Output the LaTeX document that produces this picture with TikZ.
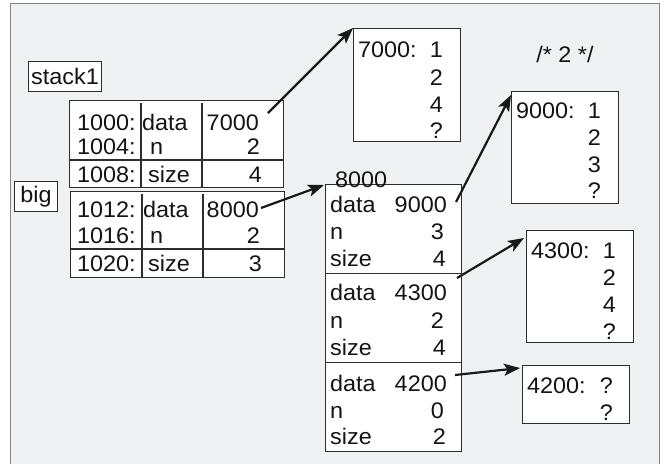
\documentclass[tikz,border=0pt]{standalone}
\usepackage{fontspec}
\newfontfamily\memfont[FakeStretch=1.04]{Liberation Sans}
\usetikzlibrary{arrows.meta,calc}
\definecolor{panelgray}{RGB}{240,241,243}
\definecolor{framegray}{RGB}{130,130,130}
\definecolor{boxline}{RGB}{45,45,45}

\begin{document}
\begin{tikzpicture}[x=1pt,y=-1pt,
		mem/.style={font=\memfont\fontsize{22.5}{26}\selectfont, inner sep=0pt, text=black!92},
		cell/.style={draw=boxline, fill=white, line width=1.1pt, inner sep=0pt, anchor=north west},
		rule/.style={draw=boxline, line width=1.1pt},
		ptr/.style={-{Stealth[length=16pt,width=12pt,inset=3.5pt]}, line width=2.2pt, black!90}]
				\useasboundingbox (0,0) rectangle (666,464);
				\fill[white] (0,0) rectangle (666,464);
				\fill[panelgray] (10,3) rectangle (659,464);
				\draw[framegray, line width=1pt] (10,464) |- (659,3) -- (659,464);
				
				% stack frames
				\node[cell, mem, minimum width=73, minimum height=30] (stack1) at (28,61) {stack1};
				\node[cell, mem, minimum width=43, minimum height=30] (big) at (14,181) {big};
				
				\node[cell, minimum width=214, minimum height=87] (s1tab) at (69,100) {};
				\draw[rule] (141,103) -- (141,187);
				\draw[rule] (202,103) -- (202,187);
				\draw[rule] (69,160) -- (283,160);
				\node[mem, anchor=base west] (a1000) at (77,130) {1000:};
				\node[mem, anchor=base west] (f1000) at (142,130) {data};
				\node[mem, anchor=base east] (v1000) at (259,130) {7000};
				\node[mem, anchor=base west] (a1004) at (77,154) {1004:};
				\node[mem, anchor=base west] (f1004) at (150,154) {n};
				\node[mem, anchor=base east] (v1004) at (260,154) {2};
				\node[mem, anchor=base west] (a1008) at (77,182) {1008:};
				\node[mem, anchor=base west] (f1008) at (148,182) {size};
				\node[mem, anchor=base east] (v1008) at (262,182) {4};
				
				\node[cell, minimum width=214, minimum height=86] (bigtab) at (70,191) {};
				\draw[rule] (142,194) -- (142,277);
				\draw[rule] (203,194) -- (203,277);
				\draw[rule] (70,249) -- (284,249);
				\node[mem, anchor=base west] (a1012) at (77,217) {1012:};
				\node[mem, anchor=base west] (f1012) at (143,217) {data};
				\node[mem, anchor=base east] (v1012) at (259,217) {8000};
				\node[mem, anchor=base west] (a1016) at (77,243) {1016:};
				\node[mem, anchor=base west] (f1016) at (150,243) {n};
				\node[mem, anchor=base east] (v1016) at (260,243) {2};
				\node[mem, anchor=base west] (a1020) at (77,271) {1020:};
				\node[mem, anchor=base west] (f1020) at (148,271) {size};
				\node[mem, anchor=base east] (v1020) at (262,271) {3};
				
				% heap structs at 8000
				\node[cell, minimum width=136, minimum height=89] (h8000a) at (325,184) {};
				\node[cell, minimum width=136, minimum height=89] (h8000b) at (325,273) {};
				\node[cell, minimum width=136, minimum height=89] (h8000c) at (325,362) {};
				\node[mem, anchor=base west] (l8000) at (335,187) {8000};
				
				\node[mem, anchor=base west] (fa1) at (330,212) {data};
				\node[mem, anchor=base east] (va1) at (447,212) {9000};
				\node[mem, anchor=base west] (fa2) at (330,239) {n};
				\node[mem, anchor=base east] (va2) at (444,239) {3};
				\node[mem, anchor=base west] (fa3) at (330,266) {size};
				\node[mem, anchor=base east] (va3) at (446,266) {4};
				
				\node[mem, anchor=base west] (fb1) at (330,300) {data};
				\node[mem, anchor=base east] (vb1) at (447,300) {4300};
				\node[mem, anchor=base west] (fb2) at (330,328) {n};
				\node[mem, anchor=base east] (vb2) at (444,328) {2};
				\node[mem, anchor=base west] (fb3) at (330,355) {size};
				\node[mem, anchor=base east] (vb3) at (446,355) {4};
				
				\node[mem, anchor=base west] (fc1) at (330,391) {data};
				\node[mem, anchor=base east] (vc1) at (447,391) {4200};
				\node[mem, anchor=base west] (fc2) at (330,418) {n};
				\node[mem, anchor=base east] (vc2) at (444,418) {0};
				\node[mem, anchor=base west] (fc3) at (330,444) {size};
				\node[mem, anchor=base east] (vc3) at (446,444) {2};
				
				% int arrays
				\node[cell, minimum width=107, minimum height=113] (a7000) at (353,28) {};
				\node[mem, anchor=base west] (l7000) at (358,57) {7000:};
				\node[mem, anchor=base east] (e7000a) at (443,57) {1};
				\node[mem, anchor=base east] (e7000b) at (443,85) {2};
				\node[mem, anchor=base east] (e7000c) at (443,112) {4};
				\node[mem, anchor=base east] (e7000d) at (443,138) {?};
				
				\node[mem, anchor=base] (note) at (565,62) {/* 2 */};
				
				\node[cell, minimum width=107, minimum height=112] (a9000) at (511,91) {};
				\node[mem, anchor=base west] (l9000) at (516,118) {9000:};
				\node[mem, anchor=base east] (e9000a) at (601,118) {1};
				\node[mem, anchor=base east] (e9000b) at (601,145) {2};
				\node[mem, anchor=base east] (e9000c) at (601,172) {3};
				\node[mem, anchor=base east] (e9000d) at (601,198) {?};
				
				\node[cell, minimum width=107, minimum height=112] (a4300) at (526,230) {};
				\node[mem, anchor=base west] (l4300) at (531,258) {4300:};
				\node[mem, anchor=base east] (e4300a) at (616,258) {1};
				\node[mem, anchor=base east] (e4300b) at (616,285) {2};
				\node[mem, anchor=base east] (e4300c) at (616,312) {4};
				\node[mem, anchor=base east] (e4300d) at (616,339) {?};
				
				\node[cell, minimum width=107, minimum height=58] (a4200) at (522,365) {};
				\node[mem, anchor=base west] (l4200) at (527,393) {4200:};
				\node[mem, anchor=base east] (e4200a) at (613,393) {?};
				\node[mem, anchor=base east] (e4200b) at (613,420) {?};
				
				% pointers
				\draw[ptr] ([shift={(9,-17)}]v1000.base east) -- (a7000.north west);
				\draw[ptr] ([shift={(2,-9)}]v1012.base east) -- ([shift={(-1,1)}]h8000a.north west);
				\draw[ptr] ([shift={(9,-10)}]va1.base east) -- ([shift={(0,4)}]a9000.north west);
				\draw[ptr] ([shift={(10,-22)}]vb1.base east) -- ([shift={(-2,8)}]a4300.north west);
				\draw[ptr] ([shift={(8,-16)}]vc1.base east) -- ([shift={(-2,3)}]a4200.north west);
			\end{tikzpicture}
\end{document}
